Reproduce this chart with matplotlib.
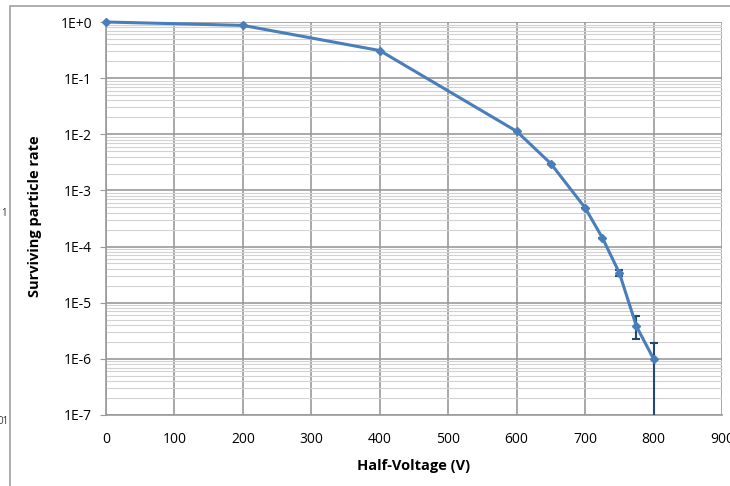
import numpy as np
import matplotlib.pyplot as plt
from matplotlib.patches import Rectangle
from matplotlib.ticker import FixedLocator, FuncFormatter, LogLocator, NullFormatter

# Data
voltage = [0, 200, 400, 600, 650, 700, 725, 750, 775, 800]
rate = [1.0, 0.87, 0.31, 0.0113, 0.003, 4.9e-4, 1.45e-4, 3.4e-5, 3.8e-6, 1.0e-6]
err_low = [0, 0, 0, 0, 0, 0, 0, 4e-6, 1.5e-6, 0.999e-6]
err_high = [0, 0, 0, 0, 0, 0, 0, 4e-6, 2.0e-6, 0.95e-6]

x_ticks = [0, 100, 200, 300, 400, 500, 600, 700, 800, 900]
y_ticks = [1e-7, 1e-6, 1e-5, 1e-4, 1e-3, 1e-2, 1e-1, 1e0]

plt.rcParams['font.family'] = ['Open Sans', 'DejaVu Sans']

fig = plt.figure(figsize=(7.3, 4.86), dpi=100)
ax = fig.add_axes([106 / 730, 1 - 415 / 486, 616 / 730, 393 / 486])

# outer chart border
fig.patches.append(Rectangle((10 / 730, -0.1), 1.2, 1 - 6 / 486 + 0.1,
                             transform=fig.transFigure, fill=False,
                             edgecolor='#A0A0A0', linewidth=1.2))

ax.set_yscale('log')
ax.set_xlim(0, 900)
ax.set_ylim(1e-7, 1)

# gridlines
ax.yaxis.set_major_locator(FixedLocator(y_ticks))
ax.yaxis.set_minor_locator(LogLocator(base=10, subs=np.arange(2, 10)))
ax.yaxis.set_minor_formatter(NullFormatter())
ax.xaxis.set_major_locator(FixedLocator(x_ticks))
ax.grid(True, which='major', axis='both', color='#9A9A9A', linewidth=1.2)
ax.grid(True, which='minor', axis='y', color='#D2D2D2', linewidth=0.8)
ax.set_axisbelow(True)

ax.yaxis.set_major_formatter(FuncFormatter(
    lambda v, p: '1E+0' if v >= 1 else '1E%d' % round(np.log10(v))))

ax.errorbar(voltage, rate, yerr=[err_low, err_high], fmt='none',
            ecolor='#24477A', elinewidth=1.5, capsize=3, capthick=1.5,
            zorder=3)
ax.plot(voltage, rate, color='#4A7EBB', linewidth=2.2, marker='D',
        markersize=4.5, markerfacecolor='#4A7EBB', markeredgecolor='#4A7EBB',
        zorder=4, clip_on=False)

for s in ['top', 'right']:
    ax.spines[s].set_visible(False)
for s in ['left', 'bottom']:
    ax.spines[s].set_color('#9A9A9A')
    ax.spines[s].set_linewidth(1.2)

ax.tick_params(axis='y', which='major', length=4, color='#9A9A9A', pad=6,
               labelsize=10)
ax.tick_params(axis='y', which='minor', length=0)
ax.tick_params(axis='x', length=0, pad=12, labelsize=10)

fig.text(414 / 730, 1 - 466 / 486, 'Half-Voltage (V)', ha='center',
         va='center', fontsize=10.5, fontweight='bold')
fig.text(35 / 730, 1 - 216 / 486, 'Surviving particle rate', ha='center',
         va='center', rotation=90, fontsize=10.5, fontweight='bold')

# leftovers at the left edge, partly outside the frame as in the source
fig.text(7 / 730, 1 - 213 / 486, '1', ha='right', va='center', fontsize=7,
         color='#333333')
fig.text(9 / 730, 1 - 421 / 486, '01', ha='right', va='center', fontsize=7,
         color='#333333')

fig.savefig('out.png', dpi=100)
